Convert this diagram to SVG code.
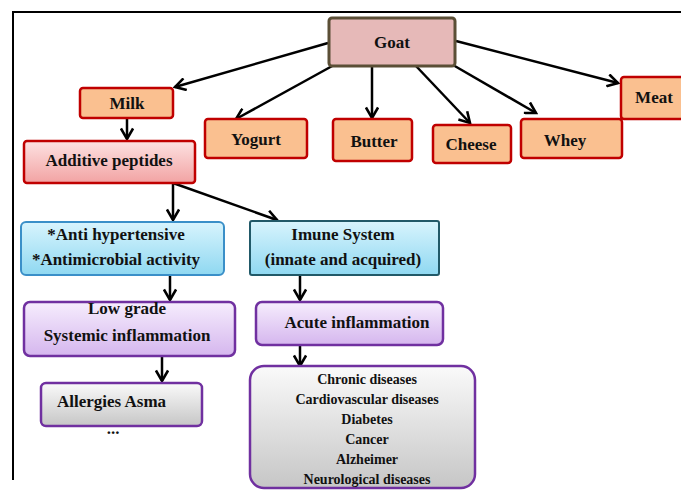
<svg xmlns="http://www.w3.org/2000/svg" width="681" height="490" viewBox="0 0 681 490">
<defs>
<linearGradient id="gPink" x1="0" y1="0" x2="0" y2="1"><stop offset="0" stop-color="#fde2e2"/><stop offset="1" stop-color="#f2a3a3"/></linearGradient>
<linearGradient id="gBlue" x1="0" y1="0" x2="0" y2="1"><stop offset="0" stop-color="#d8f4fd"/><stop offset="1" stop-color="#8fd8f1"/></linearGradient>
<linearGradient id="gPurple" x1="0" y1="0" x2="0" y2="1"><stop offset="0" stop-color="#f6edfd"/><stop offset="1" stop-color="#d5b6ee"/></linearGradient>
<linearGradient id="gGray" x1="0" y1="0" x2="0" y2="1"><stop offset="0" stop-color="#fafafa"/><stop offset="1" stop-color="#c6c6c6"/></linearGradient>
<marker id="arr" markerWidth="14" markerHeight="14" refX="10" refY="6" orient="auto" markerUnits="userSpaceOnUse" viewBox="0 0 12 12">
<path d="M1,0.8 L10,6 L1,11.2" fill="none" stroke="#000" stroke-width="2.2" stroke-linejoin="miter"/>
</marker>
</defs>
<style>
text{font-family:"Liberation Serif","Times New Roman",serif;font-weight:bold;fill:#111;text-anchor:middle}
.t{font-size:17px}
.s{font-size:14px}
.orange{fill:#fac090;stroke:#c00000;stroke-width:2.5}
.conn path{fill:none;stroke:#000;stroke-width:2.5;marker-end:url(#arr)}
</style>
<path d="M13,480 V12 H681" fill="none" stroke="#000" stroke-width="2"/>
<g class="conn" id="connectors">
<path d="M328,43 L175,87"/>
<path d="M334,65 L236,119"/>
<path d="M372,66 L372,118"/>
<path d="M416,66 L470,123"/>
<path d="M453,65 L536,113"/>
<path d="M456,41 L618,83"/>
<path d="M127,118 L127,139"/>
<path d="M173,183 L173,220"/>
<path d="M173,183 L277,220"/>
<path d="M170,275 L170,300"/>
<path d="M300,275 L300,300"/>
<path d="M162,356 L162,381"/>
<path d="M300,345 L300,366"/>
</g>
<g id="goat"><rect x="329" y="18" width="126" height="48" rx="3" fill="#e6b9b8" stroke="#5b4f36" stroke-width="3"/><text class="t" x="392" y="48">Goat</text></g>
<g id="milk"><rect x="80" y="88" width="93" height="30" rx="3" class="orange"/><text class="t" x="127" y="109">Milk</text></g>
<g id="yogurt"><rect x="205" y="119" width="102" height="39" rx="3" class="orange"/><text class="t" x="256" y="145">Yogurt</text></g>
<g id="butter"><rect x="333" y="119" width="79" height="42" rx="3" class="orange"/><text class="t" x="374" y="147">Butter</text></g>
<g id="cheese"><rect x="433" y="125" width="78" height="38" rx="3" class="orange"/><text class="t" x="471" y="150">Cheese</text></g>
<g id="whey"><rect x="521" y="119" width="101" height="39" rx="3" class="orange"/><text class="t" x="565" y="146">Whey</text></g>
<g id="meat"><rect x="621" y="77" width="70" height="42" rx="3" class="orange"/><text class="t" x="654" y="103">Meat</text></g>
<g id="additive"><rect x="24" y="141" width="171" height="42" rx="3" fill="url(#gPink)" stroke="#c00000" stroke-width="2.5"/><text class="t" x="109" y="166">Additive peptides</text></g>
<g id="anti"><rect x="21" y="222" width="203" height="53" rx="5" fill="url(#gBlue)" stroke="#3a8fc8" stroke-width="2"/><text class="t" x="116" y="240">*Anti hypertensive</text><text class="t" x="116" y="265">*Antimicrobial activity</text></g>
<g id="imune"><rect x="250" y="221" width="189" height="54" rx="2" fill="url(#gBlue)" stroke="#215968" stroke-width="2"/><text class="t" x="343" y="240">Imune System</text><text class="t" x="343" y="265">(innate and acquired)</text></g>
<g id="lowgrade"><rect x="24" y="302" width="211" height="54" rx="6" fill="url(#gPurple)" stroke="#7030a0" stroke-width="2.5"/><text class="t" x="127" y="314">Low grade</text><text class="t" x="127" y="341">Systemic inflammation</text></g>
<g id="acute"><rect x="256" y="302" width="187" height="43" rx="6" fill="url(#gPurple)" stroke="#7030a0" stroke-width="2.5"/><text class="t" x="357" y="328">Acute inflammation</text></g>
<g id="allergies"><rect x="41" y="383" width="161" height="43" rx="5" fill="url(#gGray)" stroke="#7030a0" stroke-width="2.5"/><text class="t" x="57" y="407" style="text-anchor:start">Allergies Asma</text><text class="t" x="113" y="434">...</text></g>
<g id="chronic"><rect x="250" y="366" width="225" height="122" rx="14" fill="url(#gGray)" stroke="#7030a0" stroke-width="2.5"/>
<text class="s" x="367" y="384">Chronic diseases</text>
<text class="s" x="367" y="404">Cardiovascular diseases</text>
<text class="s" x="367" y="424">Diabetes</text>
<text class="s" x="367" y="444">Cancer</text>
<text class="s" x="367" y="464">Alzheimer</text>
<text class="s" x="367" y="484">Neurological diseases</text></g>
</svg>
